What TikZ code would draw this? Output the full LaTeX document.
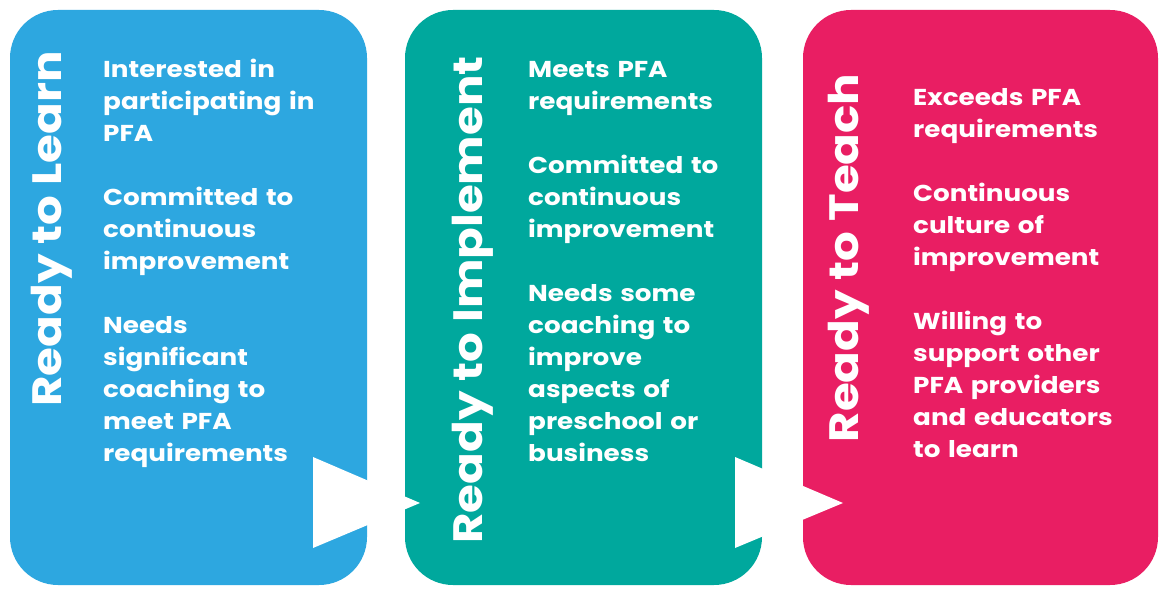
\documentclass[tikz,border=0pt]{standalone}
\usepackage{fontspec}
\setmainfont{Poppins}[BoldFont={* Bold},FakeStretch=1.14]
\definecolor{cblue}{RGB}{45,167,224}
\definecolor{cteal}{RGB}{0,168,157}
\definecolor{cpink}{RGB}{233,30,99}
\begin{document}
\begin{tikzpicture}[x=1pt,y=-1pt,
  card/.style={rounded corners=48pt},
  title/.style={rotate=90,text=white,font=\fontsize{41}{45}\selectfont\bfseries,inner sep=0pt},
  items/.style={anchor=north west,inner sep=0pt,text=white,align=left,text width=240pt,
    font=\fontsize{23}{32}\selectfont\bfseries},
  notch/.style={fill=white}]
\useasboundingbox (0,0) rectangle (1160,596);
\fill[white] (0,0) rectangle (1160,596);
\fill[cblue,card] (10,10) rectangle (367,585);
\fill[cteal,card] (405,10) rectangle (762,585);
\fill[cpink,card] (803,10) rectangle (1158,585);
\fill[notch] (313,457) -- (420,503) -- (313,548) -- cycle;
\fill[notch] (735,457) -- (843,503) -- (735,548) -- cycle;
\node[title] (t1) at (52,229) {Ready to Learn};
\node[title] (t2) at (473,300) {Ready to Implement};
\node[title] (t3) at (849,258) {Ready to Teach};
\node[items] (i1) at (103,59) {Interested in\\ participating in\\ PFA\\[32pt]
Committed to\\ continuous\\ improvement\\[32pt]
Needs\\ significant\\ coaching to\\ meet PFA\\ requirements};
\node[items] (i2) at (528,61) {Meets PFA\\ requirements\\[32pt]
Committed to\\ continuous\\ improvement\\[32pt]
Needs some\\ coaching to\\ improve\\ aspects of\\ preschool or\\ business};
\node[items] (i3) at (913,88) {Exceeds PFA\\ requirements\\[32pt]
Continuous\\ culture of\\ improvement\\[32pt]
Willing to\\ support other\\ PFA providers\\ and educators\\ to learn};
\end{tikzpicture}
\end{document}
